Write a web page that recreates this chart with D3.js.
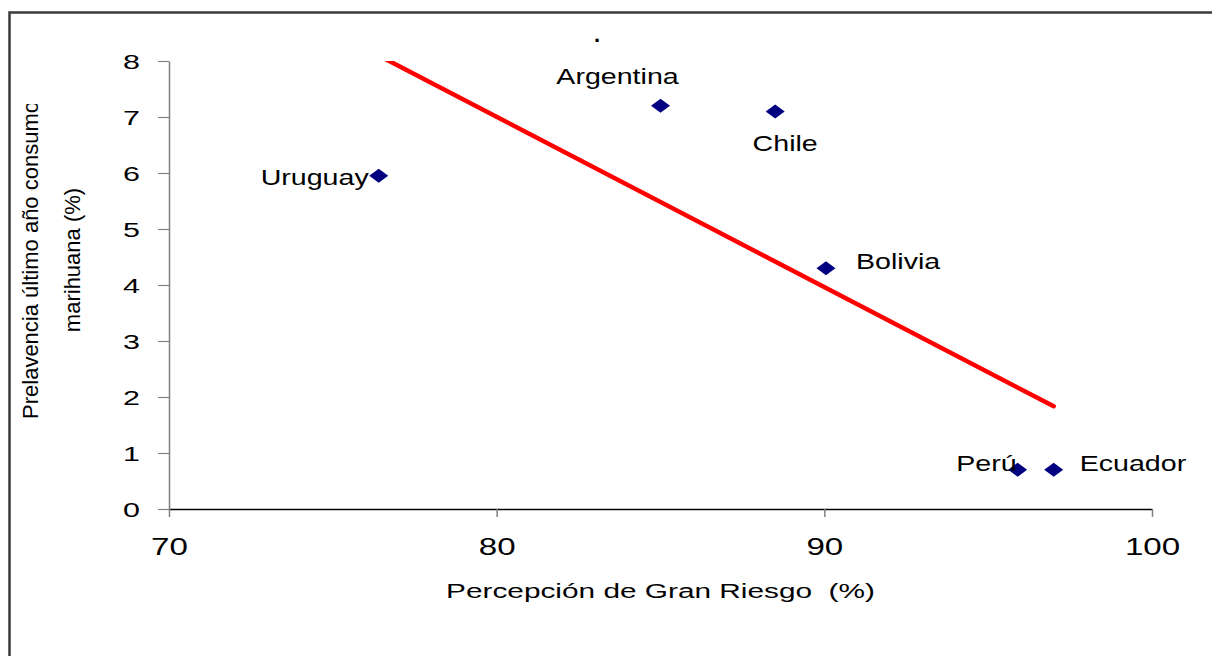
<!DOCTYPE html>
<html>
<head>
<meta charset="utf-8">
<script src="https://cdn.jsdelivr.net/npm/d3@7"></script>
<style>
  html, body { margin: 0; padding: 0; background: #fff; }
  svg { display: block; font-family: "Liberation Sans", Arial, sans-serif; }
</style>
</head>
<body>
<div id="chart"></div>
<script>
// Datos: percepción de gran riesgo vs. prevalencia último año (marihuana)
const countries = ['Uruguay', 'Argentina', 'Chile', 'Bolivia', 'Perú', 'Ecuador'];
const riskPerception = [76.4, 85.0, 88.5, 90.05, 95.9, 97.0];
const prevalence = [5.95, 7.2, 7.1, 4.3, 0.7, 0.7];
const xTicks = [70, 80, 90, 100];
const yTicks = [0, 1, 2, 3, 4, 5, 6, 7, 8];

const xTitle = 'Percepción de Gran Riesgo  (%)';
const yTitleLines = ['Prelavencia último año consumo', 'marihuana (%)'];
const chartTitle = '.';

// Posición de etiquetas por país (relativa al punto)
const LABEL_POS = {
  'Uruguay':   { dx: -10, dy: 9,  anchor: 'end' },
  'Argentina': { dx: -43, dy: -22, anchor: 'middle' },
  'Chile':     { dx: 10,  dy: 40, anchor: 'middle' },
  'Bolivia':   { dx: 30,  dy: 1,  anchor: 'start' },
  'Perú':      { dx: -1,  dy: 1,  anchor: 'end' },
  'Ecuador':   { dx: 26,  dy: 1,  anchor: 'start' }
};

const W = 1212, H = 656;
const plot = { left: 169, right: 1152, top: 61, bottom: 509 };

const svg = d3.select('#chart').append('svg')
  .attr('width', W).attr('height', H);

// Marco exterior
svg.append('rect')
  .attr('x', 9.5).attr('y', 12.5)
  .attr('width', 1400).attr('height', 900)
  .attr('fill', '#fff')
  .attr('stroke', '#3a3a3a')
  .attr('stroke-width', 2.5);

const x = d3.scaleLinear().domain([70, 100]).range([plot.left, plot.right]);
const y = d3.scaleLinear().domain([0, 8]).range([plot.bottom, plot.top]);

const defs = svg.append('defs');
defs.append('clipPath').attr('id', 'plot-clip')
  .append('rect')
  .attr('x', plot.left).attr('y', plot.top)
  .attr('width', plot.right - plot.left).attr('height', plot.bottom - plot.top);
defs.append('clipPath').attr('id', 'ytitle-clip')
  .append('rect')
  .attr('x', 0).attr('y', 104).attr('width', 160).attr('height', 500);

// Eje Y
const yAxis = svg.append('g')
  .attr('transform', `translate(${plot.left},0)`)
  .call(d3.axisLeft(y).tickValues(yTicks).tickSize(11).tickSizeOuter(0).tickFormat(d3.format('d')));
yAxis.select('.domain').attr('stroke', '#808080').attr('stroke-width', 1.5);
yAxis.selectAll('.tick line').attr('stroke', '#808080').attr('stroke-width', 1.2);
yAxis.selectAll('.tick text')
  .attr('x', null).attr('dy', null)
  .attr('font-size', 21)
  .attr('fill', '#000')
  .attr('text-anchor', 'end')
  .attr('transform', 'translate(-29,7.5) scale(1.45,1)');

// Eje X
const xAxis = svg.append('g')
  .attr('transform', `translate(0,${plot.bottom})`)
  .call(d3.axisBottom(x).tickValues(xTicks).tickSize(8).tickSizeOuter(0).tickFormat(d3.format('d')));
xAxis.select('.domain').attr('stroke', '#000').attr('stroke-width', 1.3);
xAxis.selectAll('.tick line').attr('stroke', '#808080').attr('stroke-width', 1.5);
xAxis.selectAll('.tick text')
  .attr('y', null).attr('dy', null)
  .attr('font-size', 24)
  .attr('fill', '#000')
  .attr('text-anchor', 'middle')
  .attr('transform', 'translate(0,46) scale(1.38,1)');
yAxis.raise();

// Línea de tendencia (mínimos cuadrados)
const mx = d3.mean(riskPerception), my = d3.mean(prevalence);
const sxy = d3.sum(riskPerception, (v, i) => (v - mx) * (prevalence[i] - my));
const sxx = d3.sum(riskPerception, v => (v - mx) * (v - mx));
const slope = sxy / sxx;
const intercept = my - slope * mx;
const xExt = d3.extent(riskPerception);

svg.append('line')
  .attr('clip-path', 'url(#plot-clip)')
  .attr('x1', x(xExt[0])).attr('y1', y(intercept + slope * xExt[0]))
  .attr('x2', x(xExt[1])).attr('y2', y(intercept + slope * xExt[1]))
  .attr('stroke', '#ff0000')
  .attr('stroke-width', 4.5)
  .attr('stroke-linecap', 'round');

// Puntos
const hw = 9.5, hh = 7;
const points = svg.append('g').selectAll('g')
  .data(countries.map((c, i) => ({ name: c, px: riskPerception[i], py: prevalence[i] })))
  .join('g')
  .attr('transform', d => `translate(${x(d.px)},${y(d.py)})`);

points.append('path')
  .attr('d', `M0,${-hh}L${hw},0L0,${hh}L${-hw},0Z`)
  .attr('fill', '#000080');

points.append('text')
  .attr('font-size', 22)
  .attr('fill', '#000')
  .attr('text-anchor', d => LABEL_POS[d.name].anchor)
  .attr('transform', d => `translate(${LABEL_POS[d.name].dx},${LABEL_POS[d.name].dy}) scale(1.3,1)`)
  .text(d => d.name);

// Título eje X
svg.append('text')
  .attr('font-size', 21)
  .attr('fill', '#000')
  .attr('text-anchor', 'middle')
  .style('white-space', 'pre')
  .attr('transform', `translate(${(plot.left + plot.right) / 2},598) scale(1.42,1)`)
  .text(xTitle);

// Título eje Y (dos líneas, recortado arriba)
const yTitle = svg.append('g').attr('clip-path', 'url(#ytitle-clip)');
yTitle.selectAll('text')
  .data(yTitleLines)
  .join('text')
  .attr('font-size', 22)
  .attr('fill', '#000')
  .attr('text-anchor', 'middle')
  .attr('transform', (d, i) => `translate(${38 + i * 42},260) rotate(-90)`)
  .text(d => d);

// Título del gráfico
svg.append('text')
  .attr('x', 597).attr('y', 42)
  .attr('font-size', 22)
  .attr('font-weight', 'bold')
  .attr('text-anchor', 'middle')
  .attr('fill', '#000')
  .text(chartTitle);
</script>
</body>
</html>
